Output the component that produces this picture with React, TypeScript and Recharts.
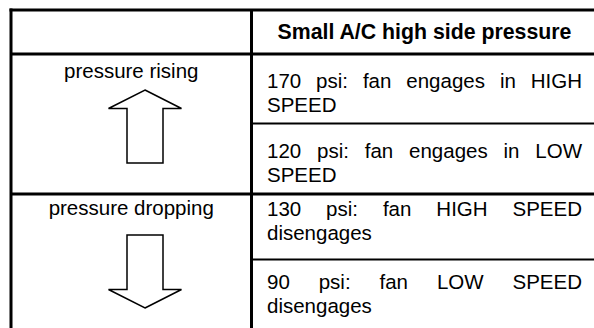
import React from 'react';
import { ScatterChart, XAxis, YAxis, ReferenceLine, Scatter } from 'recharts';

// ---------------- content ----------------
const headerTitle = 'Small A/C high side pressure';
const trendLabels = ['pressure rising', 'pressure dropping'];
const trendArrows = ['up', 'down'];
const thresholdPsi = [170, 120, 130, 90];
const fanEvents = [
  'fan engages in HIGH SPEED',
  'fan engages in LOW SPEED',
  'fan HIGH SPEED disengages',
  'fan LOW SPEED disengages',
];

// ---------------- layout ----------------
const W = 594;
const H = 328;
const FONT = '"Liberation Sans", Arial, sans-serif';
const FONT_SIZE = 20.5;
const HEADER_FONT_SIZE = 21.3;
const colX = { left: 11, divider: 251.5, right: 596 };
const rowY = { top: 10, header: 54, group: 194 };
const subDividerY = [123.5, 259.5];
const cellPad = 14;
const headerBaseline = 39;
const trendBaseline = [78, 215];
const arrowTop = [90, 235];
const arrowLength = 73;
const arrowCenterX = 145;
const arrowHalfHead = 36.5;
const arrowHalfShaft = 18;
const arrowHead = 18.5;
const eventBaseline = [87.5, 157.5, 216, 289];
const lineGap = 24;

let ctx: CanvasRenderingContext2D | null = null;
function measure(text: string, bold = false, size = FONT_SIZE): number {
  if (!ctx) ctx = document.createElement('canvas').getContext('2d');
  if (!ctx) return text.length * size * 0.5;
  ctx.font = `${bold ? 'bold ' : ''}${size}px "Liberation Sans"`;
  return ctx.measureText(text).width;
}

function wrap(text: string, maxW: number): string[][] {
  const words = text.split(' ');
  const lines: string[][] = [];
  let cur: string[] = [];
  for (const w of words) {
    const trial = [...cur, w].join(' ');
    if (cur.length && measure(trial) > maxW) {
      lines.push(cur);
      cur = [w];
    } else cur.push(w);
  }
  if (cur.length) lines.push(cur);
  return lines;
}

const textStyle = { fontFamily: FONT, fontSize: FONT_SIZE, fill: '#000' };

const HeaderCell = (props: any) => {
  const { cx, cy, payload } = props;
  return (
    <text x={cx} y={cy} textAnchor="middle" fontWeight="bold" {...textStyle} fontSize={HEADER_FONT_SIZE}>
      {payload.text}
    </text>
  );
};

const TrendLabel = (props: any) => {
  const { cx, cy, payload } = props;
  return (
    <text x={cx} y={cy} textAnchor="middle" {...textStyle}>
      {payload.text}
    </text>
  );
};

const Arrow = (props: any) => {
  const { cx, cy, payload } = props;
  const len = payload.length;
  let pts: number[][];
  if (payload.dir === 'up') {
    const t = cy;
    const b = cy + len;
    const w = t + arrowHead;
    pts = [
      [cx, t],
      [cx + arrowHalfHead, w],
      [cx + arrowHalfShaft, w],
      [cx + arrowHalfShaft, b],
      [cx - arrowHalfShaft, b],
      [cx - arrowHalfShaft, w],
      [cx - arrowHalfHead, w],
    ];
  } else {
    const t = cy;
    const b = cy + len;
    const w = b - arrowHead;
    pts = [
      [cx, b],
      [cx + arrowHalfHead, w],
      [cx + arrowHalfShaft, w],
      [cx + arrowHalfShaft, t],
      [cx - arrowHalfShaft, t],
      [cx - arrowHalfShaft, w],
      [cx - arrowHalfHead, w],
    ];
  }
  return (
    <polygon
      points={pts.map((p) => p.join(',')).join(' ')}
      fill="#fff"
      stroke="#000"
      strokeWidth={1.5}
      strokeLinejoin="miter"
    />
  );
};

const EventCell = (props: any) => {
  const { cx, cy, payload } = props;
  const width = payload.width;
  const lines = wrap(payload.text, width);
  return (
    <g>
      {lines.map((words, li) => {
        const y = cy + li * lineGap;
        if (li === lines.length - 1 || words.length === 1) {
          return (
            <text key={li} x={cx} y={y} {...textStyle}>
              {words.join(' ')}
            </text>
          );
        }
        const widths = words.map((w) => measure(w));
        const total = widths.reduce((a, b) => a + b, 0);
        const gap = (width - total) / (words.length - 1);
        let x = cx;
        return (
          <g key={li}>
            {words.map((w, i) => {
              const el = (
                <text key={i} x={x} y={y} {...textStyle}>
                  {w}
                </text>
              );
              x += widths[i] + gap;
              return el;
            })}
          </g>
        );
      })}
    </g>
  );
};

const headerData = [{ x: (colX.divider + 1.5 + colX.right) / 2, y: headerBaseline, text: headerTitle }];
const trendLabelData = trendLabels.map((t, i) => ({ x: (colX.left + 1.5 + colX.divider - 1.5) / 2, y: trendBaseline[i], text: t }));
const arrowData = trendArrows.map((d, i) => ({ x: arrowCenterX, y: arrowTop[i], dir: d, length: arrowLength }));
const textLeft = colX.divider + 1.5 + cellPad;
const textWidth = colX.right - cellPad - textLeft;
const eventData = thresholdPsi.map((p, i) => ({
  x: textLeft,
  y: eventBaseline[i],
  text: `${p} psi: ${fanEvents[i]}`,
  width: textWidth,
}));

const gridLines = [
  { x1: colX.left - 1.5, y1: rowY.top, x2: W, y2: rowY.top, w: 3 },
  { x1: colX.left, y1: rowY.top - 1.5, x2: colX.left, y2: H, w: 3 },
  { x1: colX.divider, y1: rowY.top, x2: colX.divider, y2: H, w: 3 },
  { x1: colX.left, y1: rowY.header, x2: W, y2: rowY.header, w: 3 },
  { x1: colX.left, y1: rowY.group, x2: W, y2: rowY.group, w: 3 },
  ...subDividerY.map((y) => ({ x1: colX.divider, y1: y, x2: W, y2: y, w: 2 })),
];

export default function App() {
  return (
    <div style={{ position: 'absolute', left: 0, top: 0, width: W, height: H, background: '#fff' }}>
      <ScatterChart width={W} height={H} margin={{ top: 0, right: 0, bottom: 0, left: 0 }}>
        <XAxis type="number" dataKey="x" domain={[0, W]} hide allowDataOverflow />
        <YAxis type="number" dataKey="y" domain={[0, H]} reversed hide allowDataOverflow />
        {gridLines.map((l, i) => (
          <ReferenceLine
            key={i}
            segment={[
              { x: l.x1, y: l.y1 },
              { x: l.x2, y: l.y2 },
            ]}
            stroke="#000"
            strokeWidth={l.w}
            ifOverflow="visible"
          />
        ))}
        <Scatter data={arrowData} shape={Arrow} isAnimationActive={false} />
        <Scatter data={headerData} shape={HeaderCell} isAnimationActive={false} />
        <Scatter data={trendLabelData} shape={TrendLabel} isAnimationActive={false} />
        <Scatter data={eventData} shape={EventCell} isAnimationActive={false} />
      </ScatterChart>
    </div>
  );
}
